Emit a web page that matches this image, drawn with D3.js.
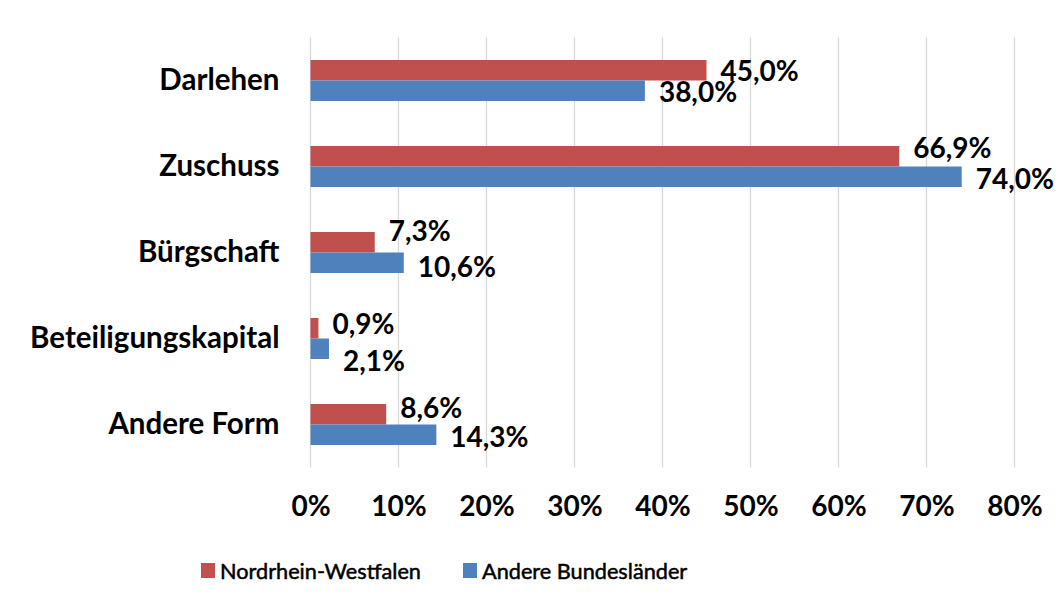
<!DOCTYPE html>
<html>
<head>
<meta charset="utf-8">
<script src="https://cdn.jsdelivr.net/npm/d3@7"></script>
<style>
  body { margin: 0; background: #fff; }
  text { font-family: Lato, sans-serif; font-weight: bold; fill: #000; }
</style>
</head>
<body>
<svg width="1058" height="608"></svg>
<script>
var categories = ["Darlehen", "Zuschuss", "Bürgschaft", "Beteiligungskapital", "Andere Form"];
var seriesNames = ["Nordrhein-Westfalen", "Andere Bundesländer"];
var nrwValues = [45.0, 66.9, 7.3, 0.9, 8.6];
var otherValues = [38.0, 74.0, 10.6, 2.1, 14.3];
var tickValues = [0, 10, 20, 30, 40, 50, 60, 70, 80];
// label nudges so the value labels don't collide (like Excel did)
var nrwLabelDy = [1, -8, -11, -4, -6];
var otherLabelDy = [1.5, 2, 4, 12, 2];

var colors = ["#c0504d", "#4f81bd"];

var svg = d3.select("svg"),
    margin = {top: 37.5, right: 44, bottom: 141, left: 310.5},
    width = svg.attr("width") - margin.left - margin.right,
    height = svg.attr("height") - margin.top - margin.bottom,
    g = svg.append("g").attr("transform", "translate(" + margin.left + "," + margin.top + ")");

var x = d3.scaleLinear().domain([0, 80]).range([0, 704]);
var y = d3.scaleBand().domain(categories).range([0, 430]).paddingInner(0.523).paddingOuter(0.2615);
var y1 = d3.scaleBand().domain([0, 1]).range([0, y.bandwidth()]);

var fmt = function(v) { return v.toFixed(1).replace(".", ",") + "%"; };

// gridlines
g.append("g")
    .selectAll("line")
    .data(tickValues)
    .enter().append("line")
      .attr("x1", function(d) { return x(d); })
      .attr("x2", function(d) { return x(d); })
      .attr("y1", 0)
      .attr("y2", 430)
      .attr("stroke", "#d9d9d9")
      .attr("stroke-width", 1.3);

// x axis labels
var xAxis = g.append("g")
    .attr("transform", "translate(0,430)")
    .call(d3.axisBottom(x).tickValues(tickValues).tickSize(0).tickPadding(29)
      .tickFormat(function(d) { return d + "%"; }));
xAxis.select(".domain").remove();
xAxis.selectAll("text").style("font-size", "28px").attr("font-family", null);

// y axis labels
var yAxis = g.append("g")
    .call(d3.axisLeft(y).tickSize(0).tickPadding(31));
yAxis.select(".domain").remove();
yAxis.selectAll("text").style("font-size", "29.5px").attr("font-family", null);

var data = categories.map(function(c, i) {
  return {cat: c, vals: [
    {s: 0, v: nrwValues[i], dy: nrwLabelDy[i]},
    {s: 1, v: otherValues[i], dy: otherLabelDy[i]}
  ]};
});

var groups = g.selectAll(".grp")
    .data(data)
    .enter().append("g")
      .attr("class", "grp")
      .attr("transform", function(d) { return "translate(0," + y(d.cat) + ")"; });

groups.selectAll("rect")
    .data(function(d) { return d.vals; })
    .enter().append("rect")
      .attr("x", x(0))
      .attr("y", function(d) { return y1(d.s); })
      .attr("width", function(d) { return x(d.v) - x(0); })
      .attr("height", y1.bandwidth())
      .attr("fill", function(d) { return colors[d.s]; });

groups.selectAll(".lbl")
    .data(function(d) { return d.vals; })
    .enter().append("text")
      .attr("class", "lbl")
      .attr("x", function(d) { return x(d.v) + 14; })
      .attr("y", function(d) { return y1(d.s) + y1.bandwidth() / 2 + d.dy; })
      .attr("dy", "0.35em")
      .style("font-size", "28px")
      .text(function(d) { return fmt(d.v); });

// legend
var legend = svg.append("g").attr("transform", "translate(0,571)");
var legendX = [201, 463];
seriesNames.forEach(function(name, i) {
  legend.append("rect")
      .attr("x", legendX[i])
      .attr("y", -8)
      .attr("width", 14)
      .attr("height", 15)
      .attr("fill", colors[i]);
  legend.append("text")
      .attr("x", legendX[i] + 19)
      .attr("y", 0)
      .attr("dy", "0.35em")
      .style("font-size", "21.7px")
      .style("font-weight", "normal")
      .style("stroke", "#000")
      .style("stroke-width", "0.5px")
      .text(name);
});
</script>
</body>
</html>
